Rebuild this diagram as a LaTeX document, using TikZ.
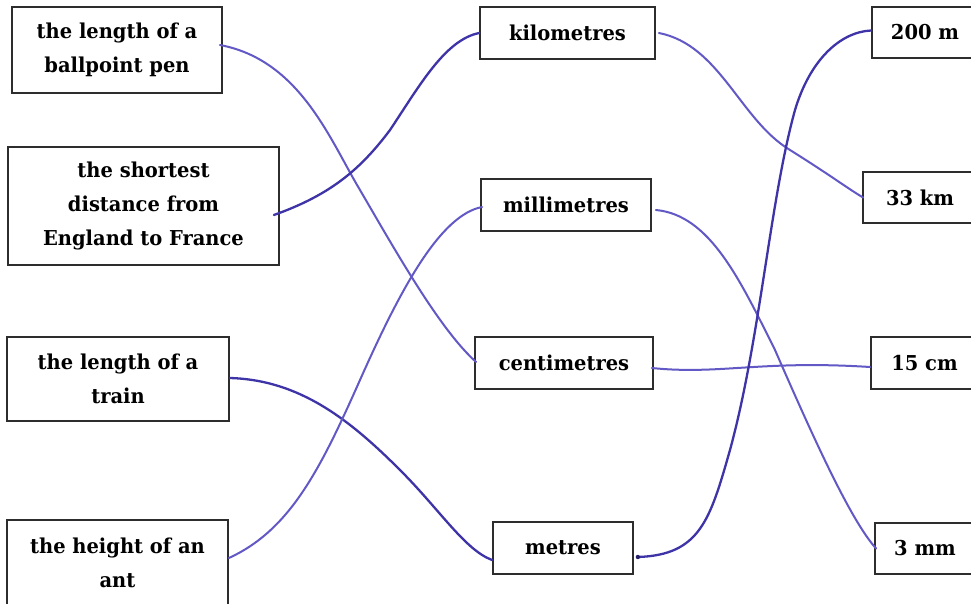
\documentclass[tikz,border=0pt]{standalone}
\usepackage{fontspec}
\setmainfont{DejaVu Serif}[FakeStretch=0.95]
\usetikzlibrary{calc}
\definecolor{pen}{RGB}{98,88,198}
\definecolor{pendark}{RGB}{62,52,168}
\definecolor{frame}{RGB}{45,45,45}
\begin{document}
\begin{tikzpicture}[x=1pt,y=-1pt,
  box/.style={draw=frame,line width=1.8pt,inner sep=0pt,align=center,
    font=\fontsize{20.5}{34}\selectfont\bfseries},
  link/.style={draw=pen,line width=2pt,line cap=round},
  darklink/.style={link,draw=pendark,line width=2.3pt}]
\useasboundingbox (0,0) rectangle (971,604);
\clip (0,0) rectangle (971,604);
\fill[white] (0,0) rectangle (971,604);
% left column
\node[box,minimum width=210pt,minimum height=86pt] (L1) at (117,50) {the length of a\\ballpoint pen};
\node[box,minimum width=271pt,minimum height=118pt] (L2) at (143.5,206) {the shortest\\distance from\\England to France};
\node[box,minimum width=222pt,minimum height=84pt] (L3) at (118,379) {the length of a\\train};
\node[box,minimum width=221pt,minimum height=86pt] (L4) at (117.5,563) {the height of an\\ant};
% middle column
\node[box,minimum width=175pt,minimum height=52pt] (M1) at (567.5,33) {kilometres};
\node[box,minimum width=170pt,minimum height=52pt] (M2) at (566,205) {millimetres};
\node[box,minimum width=178pt,minimum height=52pt] (M3) at (564,363) {centimetres};
\node[box,minimum width=140pt,minimum height=52pt] (M4) at (563,548) {metres};
% right column
\node[box,minimum width=106pt,minimum height=51pt] (R1) at (925,32.5) {200 m};
\node[box,minimum width=114pt,minimum height=51pt] (R2) at (920,197.5) {33 km};
\node[box,minimum width=107pt,minimum height=52pt] (R3) at (924.5,363) {15 cm};
\node[box,minimum width=100pt,minimum height=51pt] (R4) at (925,548.5) {3 mm};
% end points of the drawn links
\coordinate (a1) at ($(L1.east)+(-3,-5)$);
\coordinate (a2) at ($(L2.east)+(-6,9)$);
\coordinate (a3) at ($(L3.east)+(0,-1)$);
\coordinate (a4) at ($(L4.east)+(0,-5)$);
\coordinate (b1l) at ($(M1.west)+(0,0)$);
\coordinate (b1r) at ($(M1.east)+(3,0)$);
\coordinate (b2l) at ($(M2.west)+(2,2)$);
\coordinate (b2r) at ($(M2.east)+(4,5)$);
\coordinate (b3l) at ($(M3.west)+(2,-1)$);
\coordinate (b3r) at ($(M3.east)+(-2,5)$);
\coordinate (b4l) at ($(M4.west)+(0,12)$);
\coordinate (b4r) at ($(M4.east)+(4,9)$);
\coordinate (c1) at ($(R1.west)+(0,-2)$);
\coordinate (c2) at ($(R2.west)+(1,0)$);
\coordinate (c3) at ($(R3.west)+(0,4)$);
\coordinate (c4) at ($(R4.west)+(2,0)$);
% links
\draw[link] (a1) .. controls (300,60) and (330,140) .. (360,190) .. controls (395,250) and (440,330) .. (b3l);
\draw[darklink] (a2) .. controls (330,195) and (360,170) .. (390,130) .. controls (420,85) and (445,40) .. (b1l);
\draw[darklink] (a3) .. controls (300,380) and (350,420) .. (400,470) .. controls (440,510) and (465,550) .. (b4l);
\draw[link] (a4) .. controls (290,530) and (320,470) .. (360,380) .. controls (400,290) and (440,215) .. (b2l);
\draw[link] (b1r) .. controls (720,45) and (740,120) .. (790,150) .. controls (830,175) and (850,190) .. (c2);
\draw[link] (b2r) .. controls (710,215) and (740,280) .. (775,350) .. controls (810,430) and (850,520) .. (c4);
\draw[link] (b3r) .. controls (720,375) and (760,360) .. (c3);
\draw[darklink] (b4r) .. controls (700,555) and (710,520) .. (730,450) .. controls (760,340) and (770,200) .. (795,110) .. controls (810,60) and (840,32) .. (c1);
\fill[pendark!60!black] (b4r) circle (2.2pt);
\end{tikzpicture}
\end{document}
